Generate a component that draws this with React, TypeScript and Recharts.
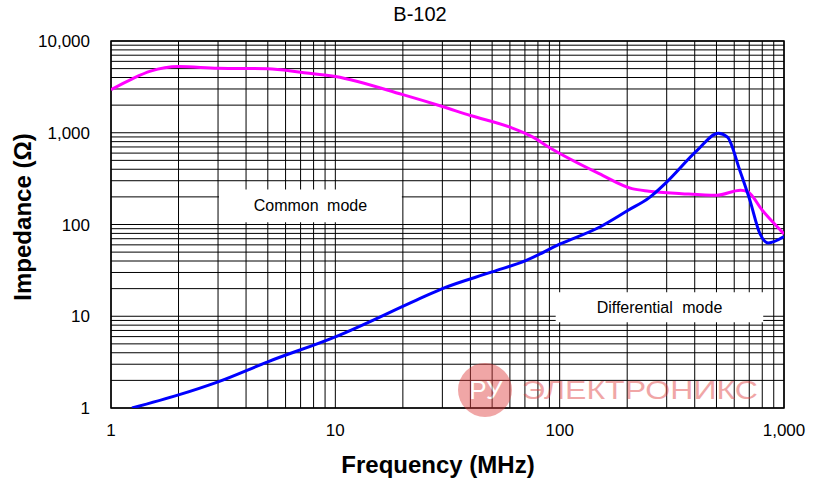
import { LineChart, Line, XAxis, YAxis, CartesianGrid, ReferenceArea } from 'recharts';

// common mode curve (MHz, ohm)
const cmFreq = [1, 1.25, 1.5, 2, 3, 5, 7, 10, 20, 30, 40, 60, 76, 90, 150, 210, 250, 350, 500, 640, 690, 800, 1000];
const cmImp = [2950, 3900, 4690, 5270, 5050, 4980, 4570, 4100, 2600, 1930, 1540, 1150, 896, 690, 358, 246, 231, 217, 208, 236, 227, 143, 79];

// differential mode curve
const dmFreq = [1.24, 2, 3, 5, 10, 23, 30, 50, 71, 100, 151, 202, 250, 300, 410, 510, 560, 635, 705, 780, 850, 1000];
const dmImp = [1, 1.39, 1.93, 3.19, 5.97, 15, 20, 30.4, 40.7, 61, 94, 143, 195, 290, 642, 990, 896, 390, 183, 80, 63, 74];

const xTicks = [1, 2, 3, 4, 5, 6, 7, 8, 9, 10, 20, 30, 40, 50, 60, 70, 80, 90, 100, 200, 300, 400, 500, 600, 700, 800, 900, 1000];
const yTicks = [
  1, 2, 3, 4, 5, 6, 7, 8, 9, 10, 20, 30, 40, 50, 60, 70, 80, 90, 100, 200, 300, 400, 500, 600, 700, 800, 900,
  1000, 2000, 3000, 4000, 5000, 6000, 7000, 8000, 9000, 10000,
];
const decades = [1, 10, 100, 1000, 10000];

const cmData = cmFreq.map((f, i) => ({ f, z: cmImp[i] }));
const dmData = dmFreq.map((f, i) => ({ f, z: dmImp[i] }));

const fmt = (v: number) => (decades.includes(v) ? v.toLocaleString('en-US') : '');

const FONT = '"Liberation Sans", Arial, sans-serif';

export default function App() {
  return (
    <div style={{ position: 'absolute', left: 0, top: 0, width: 828, height: 487, fontFamily: FONT, background: '#fff' }}>
      <LineChart width={828} height={487} margin={{ top: 41, right: 44, bottom: 0, left: 0 }}>
        <CartesianGrid stroke="#000" strokeWidth={1} />
        <XAxis
          dataKey="f"
          type="number"
          scale="log"
          domain={[1, 1000]}
          allowDataOverflow
          ticks={xTicks}
          interval={0}
          tickFormatter={fmt}
          tickLine={false}
          axisLine={false}
          tickSize={0}
          tickMargin={16}
          height={79}
          tick={{ fill: '#000', fontSize: 17, fontFamily: FONT }}
        />
        <YAxis
          dataKey="z"
          type="number"
          scale="log"
          domain={[1, 10000]}
          allowDataOverflow
          ticks={yTicks}
          interval={0}
          tickFormatter={fmt}
          tickLine={false}
          axisLine={false}
          tickSize={0}
          tickMargin={21}
          width={111}
          tick={{ fill: '#000', fontSize: 17, fontFamily: FONT }}
        />
        <ReferenceArea
          x1={3.03}
          x2={19.8}
          y1={106}
          y2={241}
          fill="#fff"
          fillOpacity={1}
          stroke="none"
          label={{ value: 'Common mode', position: 'center', fill: '#000', fontSize: 16, fontFamily: FONT, wordSpacing: 4 }}
        />
        <ReferenceArea
          x1={96}
          x2={808}
          y1={8.6}
          y2={18.3}
          fill="#fff"
          fillOpacity={1}
          stroke="none"
          label={{ value: 'Differential mode', position: 'center', fill: '#000', fontSize: 16, fontFamily: FONT, wordSpacing: 5 }}
        />
        <ReferenceArea x1={1} x2={1000} y1={1} y2={10000} fill="none" stroke="#000" strokeWidth={1.5} />
        <Line data={cmData} dataKey="z" type="monotone" stroke="#ff00ff" strokeWidth={3} dot={false} isAnimationActive={false} />
        <Line data={dmData} dataKey="z" type="monotone" stroke="#0000ff" strokeWidth={3} dot={false} isAnimationActive={false} />
      </LineChart>
      <svg width={828} height={487} style={{ position: 'absolute', left: 0, top: 0, pointerEvents: 'none' }}>
        <text x={420} y={21} textAnchor="middle" fontSize={20} fontFamily={FONT} fill="#000">
          B-102
        </text>
        <text x={438} y={473} textAnchor="middle" fontSize={24} fontWeight="bold" fontFamily={FONT} fill="#000">
          Frequency (MHz)
        </text>
        <text
          x={0}
          y={0}
          transform="translate(31 217) rotate(-90)"
          textAnchor="middle"
          fontSize={24}
          fontWeight="bold"
          fontFamily={FONT}
          fill="#000"
        >
          Impedance (Ω)
        </text>
        <g opacity={0.45}>
          <circle cx={485} cy={390} r={27} fill="#e03c3c" />
          <text x={486} y={399} textAnchor="middle" fontSize={26} fontFamily={FONT} fill="#fff">
            РУ
          </text>
          <text x={522} y={399} textLength={236} lengthAdjust="spacingAndGlyphs" fontSize={26} fontFamily={FONT} fill="#e03c3c">
            ЭЛЕКТРОНИКС
          </text>
        </g>
      </svg>
    </div>
  );
}
